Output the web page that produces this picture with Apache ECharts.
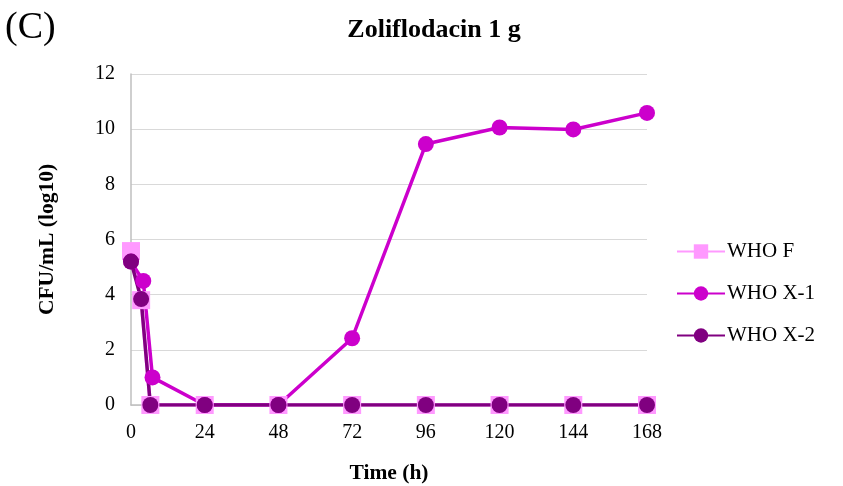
<!DOCTYPE html>
<html>
<head>
<meta charset="utf-8">
<script src="https://cdn.jsdelivr.net/npm/echarts@6/dist/echarts.min.js"></script>
<style>
  html, body { margin: 0; padding: 0; background: #ffffff; }
  #chart { width: 843px; height: 486px; }
</style>
</head>
<body>
<div id="chart"></div>
<script>
// Sampling times (h) and log10 CFU/mL counts for each strain
const timesX1 = [0, 4, 7, 24, 48, 72, 96, 120, 144, 168];
const valuesX1 = [5.2, 4.5, 1.0, 0, 0, 2.42, 9.46, 10.06, 9.99, 10.59];

const timesX2 = [0, 3.3, 6.3, 24, 48, 72, 96, 120, 144, 168];
const valuesX2 = [5.2, 3.84, 0, 0, 0, 0, 0, 0, 0, 0];

const timesF = [0, 3.3, 6.3, 24, 48, 72, 96, 120, 144, 168];
const valuesF = [5.58, 3.8, 0, 0, 0, 0, 0, 0, 0, 0];

const seriesNames = ['WHO F', 'WHO X-1', 'WHO X-2'];
const seriesColors = ['#ff99ff', '#cc00cc', '#800080'];

const pairs = (xs, ys) => xs.map((x, i) => [x, ys[i]]);

const serif = '"Liberation Serif", "DejaVu Serif", serif';

const chart = echarts.init(document.getElementById('chart'));

function lineSeries(name, color, symbol, size, data) {
  return {
    name: name,
    type: 'line',
    data: data,
    symbol: symbol,
    symbolSize: size,
    showAllSymbol: true,
    lineStyle: { color: color, width: 3.5 },
    itemStyle: { color: color },
    emphasis: { disabled: true },
    z: 2
  };
}

chart.setOption({
  animation: false,
  backgroundColor: '#ffffff',
  title: [
    {
      text: 'Zoliflodacin 1 g',
      left: 429,
      top: 12,
      textAlign: 'center',
      textStyle: { fontFamily: serif, fontWeight: 'bold', fontSize: 26, color: '#000' }
    },
    {
      text: '(C)',
      left: 0,
      top: 4,
      textStyle: { fontFamily: serif, fontWeight: 'normal', fontSize: 38, color: '#000' }
    }
  ],
  legend: {
    orient: 'vertical',
    left: 671,
    top: 236,
    itemGap: 21,
    itemWidth: 48,
    itemHeight: 18,
    textStyle: { fontFamily: serif, fontSize: 21, color: '#000', padding: [0, 0, 0, -3] },
    data: seriesNames
  },
  grid: { left: 131, right: 196, top: 74, bottom: 81, outerBoundsMode: 'none', containLabel: false },
  xAxis: {
    type: 'value',
    min: 0,
    max: 168,
    interval: 24,
    name: 'Time (h)',
    nameLocation: 'middle',
    nameGap: 57,
    nameTextStyle: { fontFamily: serif, fontWeight: 'bold', fontSize: 21.5, color: '#000' },
    axisLine: { show: true, lineStyle: { color: '#bfbfbf', width: 1.5 } },
    axisTick: { show: false },
    axisLabel: { fontFamily: serif, fontSize: 20, color: '#000', margin: 18 },
    splitLine: { show: false }
  },
  yAxis: {
    type: 'value',
    min: 0,
    max: 12,
    interval: 2,
    name: 'CFU/mL (log10)',
    nameLocation: 'middle',
    nameRotate: 90,
    nameGap: 73,
    nameTextStyle: { fontFamily: serif, fontWeight: 'bold', fontSize: 21.5, color: '#000' },
    axisLine: { show: true, lineStyle: { color: '#bfbfbf', width: 1.5 } },
    axisTick: { show: false },
    axisLabel: { fontFamily: serif, fontSize: 20, color: '#000', margin: 16 },
    splitLine: { show: true, lineStyle: { color: '#d9d9d9', width: 1.2 } }
  },
  series: [
    lineSeries(seriesNames[0], seriesColors[0], 'rect', 18, pairs(timesF, valuesF)),
    lineSeries(seriesNames[1], seriesColors[1], 'circle', 16, pairs(timesX1, valuesX1)),
    lineSeries(seriesNames[2], seriesColors[2], 'circle', 16, pairs(timesX2, valuesX2))
  ]
});
</script>
</body>
</html>
